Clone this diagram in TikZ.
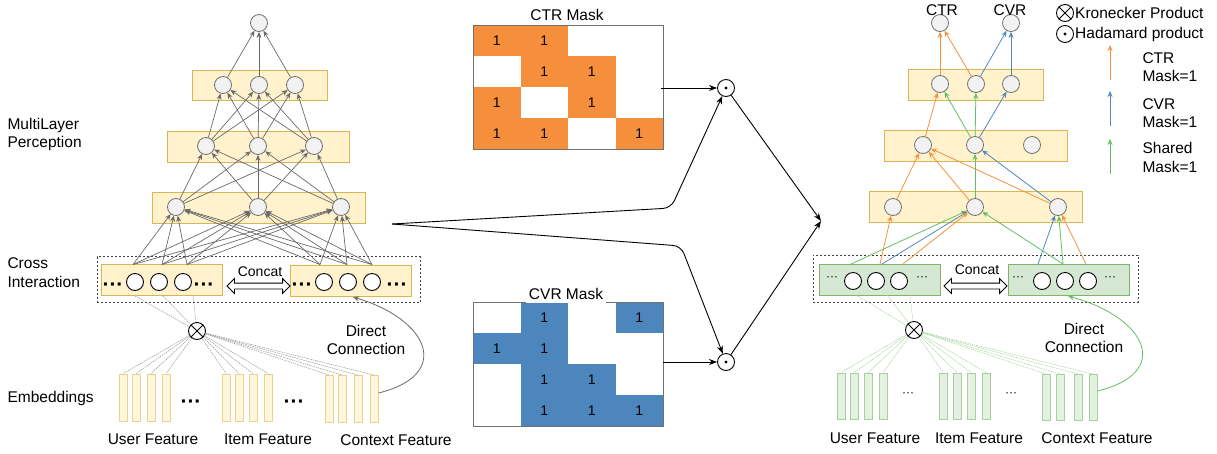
\documentclass[tikz,border=0pt]{standalone}
\usepackage{fontspec}
\setmainfont{Liberation Sans}
\usetikzlibrary{arrows.meta,shapes.arrows}
\definecolor{ylwfill}{HTML}{FFF2CC}
\definecolor{ylwdraw}{HTML}{D6B656}
\definecolor{embfill}{HTML}{FFF6DC}
\definecolor{embdraw}{HTML}{EBD28C}
\definecolor{grnfill}{HTML}{D5E8D4}
\definecolor{grndraw}{HTML}{82B366}
\definecolor{gembfill}{HTML}{E3F0E2}
\definecolor{gembdraw}{HTML}{A6D19C}
\definecolor{ctrorange}{HTML}{F58F3C}
\definecolor{cvrblue}{HTML}{4D85BD}
\definecolor{arrorange}{HTML}{F7913D}
\definecolor{arrblue}{HTML}{4F87C2}
\definecolor{arrgreen}{HTML}{62C062}
\definecolor{neuronfill}{HTML}{F2F2F2}
\definecolor{neurondraw}{HTML}{707070}
\definecolor{linkgray}{HTML}{6A6A6A}
\definecolor{matgray}{HTML}{707070}
\begin{document}
\begin{tikzpicture}[x=1pt,y=-1pt,font=\fontsize{15.5}{18.5}\selectfont,
  neuron/.style={circle,minimum size=17,inner sep=0,draw=neurondraw,fill=neuronfill,line width=0.8},
  xnode/.style={circle,minimum size=17,inner sep=0,draw=black,fill=white,line width=0.9},
  layerbox/.style={rectangle,draw=ylwdraw,fill=ylwfill,line width=1,inner sep=0},
  greenbox/.style={rectangle,draw=grndraw,fill=grnfill,line width=1,inner sep=0,minimum width=121,minimum height=31},
  crossbox/.style={rectangle,draw=ylwdraw,fill=ylwfill,line width=1,inner sep=0,minimum width=121,minimum height=31},
  embbar/.style={rectangle,draw=embdraw,fill=embfill,line width=0.9,minimum width=8,minimum height=47,inner sep=0},
  gembbar/.style={rectangle,draw=gembdraw,fill=gembfill,line width=0.9,minimum width=8,minimum height=46,inner sep=0},
  dashbox/.style={rectangle,draw=black!75,dash pattern=on 2pt off 2pt,line width=0.8,inner sep=0},
  glink/.style={draw=linkgray,line width=0.7,-{Stealth[length=6,width=5]}},
  olink/.style={draw=arrorange,line width=0.8,-{Stealth[length=6,width=5]}},
  blink/.style={draw=arrblue,line width=0.8,-{Stealth[length=6,width=5]}},
  grlink/.style={draw=arrgreen,line width=0.8,-{Stealth[length=6,width=5]}},
  klink/.style={draw=black,line width=0.9,-{Stealth[length=8,width=6]}},
  dotlink/.style={draw=gray!80,line width=0.5,dash pattern=on 1.5pt off 0.8pt},
  gdotlink/.style={draw=gembdraw,line width=0.5,dash pattern=on 1.5pt off 0.8pt},
  masknum/.style={font=\fontsize{14}{16}\selectfont},
  concat/.style={font=\fontsize{14}{16}\selectfont},
  bigdots/.style={font=\fontsize{21}{24}\bfseries},
  smalldots/.style={font=\fontsize{12}{14}\selectfont},
  darr/.style={double arrow,draw=black,fill=white,line width=0.8,minimum height=63,minimum width=14,double arrow head extend=4.5,inner xsep=0,inner ysep=2.5}
]
\useasboundingbox (0,0) rectangle (1217,453);

% ================= LEFT NETWORK =================
\node[layerbox,minimum width=135,minimum height=30] (LB3) at (259.5,85) {};
\node[layerbox,minimum width=182,minimum height=31] (LB2) at (258,146.5) {};
\node[layerbox,minimum width=213,minimum height=31] (LB1) at (258.5,207.5) {};
\node[dashbox,minimum width=323,minimum height=46] (LD) at (258.5,279.5) {};
\node[crossbox] (LCL) at (162,280) {};
\node[crossbox] (LCR) at (351,280.5) {};

\node[neuron] (LO) at (259,23) {};
\foreach \n/\x in {L3a/223,L3b/259,L3c/295} \node[neuron] (\n) at (\x,85) {};
\foreach \n/\x in {L2a/206,L2b/258,L2c/314} \node[neuron] (\n) at (\x,146) {};
\foreach \n/\x in {L1a/176,L1b/258,L1c/341} \node[neuron] (\n) at (\x,207) {};

\foreach \a in {L3a,L3b,L3c} \draw[glink] (\a) -- (LO);
\foreach \a in {L2a,L2b,L2c} \foreach \b in {L3a,L3b,L3c} \draw[glink] (\a) -- (\b);
\foreach \a in {L1a,L1b,L1c} \foreach \b in {L2a,L2b,L2c} \draw[glink] (\a) -- (\b);

\foreach \n/\x in {pl1/133,pl2/162,pl3/187,pl4/320,pl5/347,pl6/372} \coordinate (\n) at (\x,264.5);
\foreach \a in {pl1,pl2,pl3,pl4,pl5,pl6} \foreach \b in {L1a,L1b,L1c} \draw[glink] (\a) -- (\b);

% cross circles
\foreach \n/\x in {xl1/135,xl2/159,xl3/183,xr1/324,xr2/348,xr3/372} \node[xnode] (\n) at (\x,282) {};
\node[bigdots] at (113,287) {···};
\node[bigdots] at (204,287) {···};
\node[bigdots] at (302,287) {···};
\node[bigdots] at (397,287) {···};
\node[concat] at (260,272) {Concat};
\node[darr] (LDA) at (258.5,286) {};

% Kronecker
\node[xnode] (LK) at (197,331) {};
\draw[line width=0.9] (LK.45) -- (LK.225) (LK.135) -- (LK.315);
\foreach \n/\x in {ql1/135,ql2/163,ql3/193} {\coordinate (\n) at (\x,296); \draw[dotlink] (\n) -- (LK);}

% embeddings
\foreach \n/\x in {eu1/123,eu2/136,eu3/151,eu4/166,ei1/226,ei2/239,ei3/253,ei4/268} \node[embbar] (\n) at (\x,397.5) {};
\foreach \n/\x in {ec1/329,ec2/342,ec3/358,ec4/374} \node[embbar] (\n) at (\x,399) {};
\foreach \n in {eu1,eu2,eu3,eu4,ei1,ei2,ei3,ei4,ec1,ec2,ec3,ec4} \draw[dotlink] (LK) -- (\n.north);
\node[bigdots] at (191,404) {···};
\node[bigdots] at (294,404) {···};

\draw[draw=linkgray,line width=0.8,-{Stealth[length=6,width=5]}] (ec4.east |- 0,393) .. controls (452,375) and (430,320) .. (353,297);
\node[align=center] at (366,340) {Direct\\Connection};

\node[anchor=west,align=left] at (4,134.5) {MultiLayer\\Perception};
\node[anchor=west,align=left] at (4,272.5) {Cross\\Interaction};
\node[anchor=west] at (4,398) {Embeddings};
\node at (153,439) {User Feature};
\node at (268,439) {Item Feature};
\node at (396,440) {Context Feature};

% ================= MASKS =================
\node at (567,15) {CTR Mask};
\foreach \c/\r in {1/1,2/1,2/2,3/2,1/3,3/3,1/4,2/4,4/4} {
  \fill[ctrorange] ({473+(\c-1)*47.5},{25+(\r-1)*31}) rectangle +(47.5,31);
  \node[masknum] at ({473+(\c-0.5)*47.5},{25+(\r-0.5)*31}) {1};
}
\node[draw=matgray,line width=1,minimum width=190,minimum height=124,inner sep=0] (CTRM) at (568,87) {};

\foreach \c/\r in {2/1,4/1,1/2,2/2,2/3,3/3,2/4,3/4,4/4} {
  \fill[cvrblue] ({473+(\c-1)*47.5},{302+(\r-1)*31}) rectangle +(47.5,31);
  \node[masknum] at ({473+(\c-0.5)*47.5},{302+(\r-0.5)*31}) {1};
}
\node[draw=matgray,line width=1,minimum width=190,minimum height=124,inner sep=0] (CVRM) at (568,364) {};
\node[fill=white,inner xsep=3,inner ysep=4,anchor=base] at (566,299) {CVR Mask};

% Hadamard
\node[xnode] (HT) at (726,88) {};
\fill (HT) circle (1.6);
\node[xnode] (HB) at (726,362) {};
\fill (HB) circle (1.6);
\coordinate (ctrout) at (661,88);
\coordinate (cvrout) at (663,362);
\draw[klink] (ctrout) -- (HT);
\draw[klink] (cvrout) -- (HB);
\coordinate (spl) at (392,224);
\draw[klink,rounded corners=8] (spl) -- (671,208) -- (HT);
\draw[klink,rounded corners=8] (spl) -- (681,246) -- (HB);
\coordinate (merge) at (821,221);
\draw[klink] (HT) -- (merge);
\draw[klink] (HB) -- (merge);

% ================= RIGHT NETWORK =================
\node[layerbox,minimum width=135,minimum height=31] (RB3) at (975.5,84.5) {};
\node[layerbox,minimum width=183,minimum height=31] (RB2) at (975.5,145.5) {};
\node[layerbox,minimum width=213,minimum height=31] (RB1) at (975.5,206.5) {};
\node[dashbox,minimum width=325,minimum height=47] (RD) at (975.5,278.5) {};
\node[greenbox] (RCL) at (880,279.5) {};
\node[greenbox] (RCR) at (1068.5,279.5) {};

\node[neuron] (RO1) at (940,23) {};
\node[neuron] (RO2) at (1011,23) {};
\node at (942,10) {CTR};
\node at (1010,10) {CVR};
\foreach \n/\x in {R3a/940,R3b/976,R3c/1011} \node[neuron] (\n) at (\x,84) {};
\foreach \n/\x in {R2a/923,R2b/975,R2c/1032} \node[neuron] (\n) at (\x,145) {};
\foreach \n/\x in {R1a/893,R1b/975,R1c/1058} \node[neuron] (\n) at (\x,207) {};

\draw[olink] (R3a) -- (RO1);
\draw[olink] (R3b) -- (RO1);
\draw[blink] (R3b) -- (RO2);
\draw[blink] (R3c) -- (RO2);
\draw[olink] (R2a) -- (R3a);
\draw[grlink] (R2b) -- (R3a);
\draw[grlink] (R2b) -- (R3b);
\draw[blink] (R2b) -- (R3c);
\draw[olink] (R1a) -- (R2a);
\draw[olink] (R1b) -- (R2a);
\draw[olink] (R1c) -- (R2a);
\draw[grlink] (R1b) -- (R2b);
\draw[blink] (R1c) -- (R2b);

\foreach \n/\x in {pr1/851,pr2/880,pr3/882,pr4/903,pr5/1038,pr6/1063,pr7/1086} \coordinate (\n) at (\x,264);
\draw[grlink] (pr1) -- (R1b);
\draw[olink] (pr2) -- (R1a);
\draw[blink] (pr3) -- (R1b);
\draw[olink] (pr4) -- (R1b);
\draw[blink] (pr5) -- (R1c);
\draw[grlink] (pr6) -- (R1c);
\draw[grlink] (pr6) -- (R1b);
\draw[olink] (pr7) -- (R1c);

\foreach \n/\x in {yl1/853,yl2/876,yl3/899,yr1/1042,yr2/1065,yr3/1088} \node[xnode] (\n) at (\x,281) {};
\node[smalldots] at (832,279) {···};
\node[smalldots] at (922,279) {···};
\node[smalldots] at (1018,279) {···};
\node[smalldots] at (1110,279) {···};
\node[concat] at (977,270) {Concat};
\node[darr] (RDA) at (975.5,286) {};

\node[xnode] (RK) at (914,330) {};
\draw[line width=0.9] (RK.45) -- (RK.225) (RK.135) -- (RK.315);
\foreach \n/\x in {qr1/856,qr2/887,qr3/910} {\coordinate (\n) at (\x,295); \draw[gdotlink] (\n) -- (RK);}

\foreach \n/\x in {gu1/841,gu2/854,gu3/868,gu4/883,gi1/943,gi2/957,gi3/971,gi4/986} \node[gembbar] (\n) at (\x,396) {};
\foreach \n/\x in {gc1/1046,gc2/1060,gc3/1078,gc4/1093} \node[gembbar] (\n) at (\x,397.5) {};
\foreach \n in {gu1,gu2,gu3,gu4,gi1,gi2,gi3,gi4,gc1,gc2,gc3,gc4} \draw[gdotlink] (RK) -- (\n.north);
\node[smalldots] at (908,395) {···};
\node[smalldots] at (1011,395) {···};

\draw[draw=arrgreen,line width=0.8,-{Stealth[length=6,width=5]}] (gc4.east |- 0,391) .. controls (1172,373) and (1148,318) .. (1068,296);
\node[align=center] at (1084,338) {Direct\\Connection};

\node at (875,438) {User Feature};
\node at (979,438) {Item Feature};
\node at (1097,438) {Context Feature};

% ================= LEGEND =================
\node[xnode] (LGK) at (1065,13) {};
\draw[line width=0.9] (LGK.45) -- (LGK.225) (LGK.135) -- (LGK.315);
\node[anchor=west,inner xsep=1] at (1074,13) {Kronecker Product};
\node[xnode] (LGH) at (1065,34) {};
\fill (LGH) circle (1.6);
\node[anchor=west,inner xsep=1] at (1074,34) {Hadamard product};

\coordinate (lo1) at (1110,80); \coordinate (lo2) at (1110,45);
\draw[olink] (lo1) -- (lo2);
\coordinate (lb1) at (1110,126); \coordinate (lb2) at (1110,91);
\draw[blink] (lb1) -- (lb2);
\coordinate (lg1) at (1110,174); \coordinate (lg2) at (1110,139);
\draw[grlink] (lg1) -- (lg2);
\node[anchor=west,align=left] at (1139,67) {CTR\\Mask=1};
\node[anchor=west,align=left] at (1139,113) {CVR\\Mask=1};
\node[anchor=west,align=left] at (1139,157.5) {Shared\\Mask=1};
\end{tikzpicture}
\end{document}
